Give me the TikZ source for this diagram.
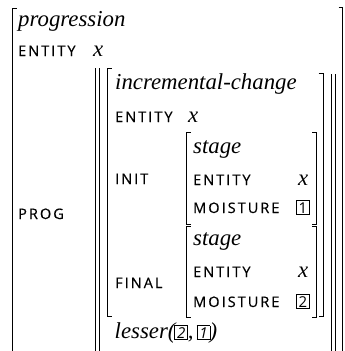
\documentclass[tikz,border=0pt]{standalone}
\usepackage{fontspec}
\setmainfont{Liberation Serif}
\newfontfamily\attrfont[LetterSpace=14, FakeBold=0.4]{Open Sans}
\newfontfamily\tagfont{Open Sans}
% boxed structure-sharing tag
\newcommand\avmtag[1]{{\setlength\fboxsep{1.4pt}\setlength\fboxrule{0.6pt}%
  \fbox{\tagfont\fontsize{15}{15}\selectfont\makebox[9.5pt]{#1}}}}
\begin{document}
\begin{tikzpicture}[x=1pt,y=-1pt,
  brk/.style={line width=0.8pt},
  attr/.style={anchor=base west, inner sep=0pt, font=\attrfont\fontsize{14.5}{14.5}\selectfont},
  typ/.style={anchor=base west, inner sep=0pt, font=\itshape\fontsize{22.8}{24}\selectfont},
  val/.style={anchor=base west, inner sep=0pt, font=\itshape\fontsize{22.8}{24}\selectfont}]
\useasboundingbox (0,0) rectangle (345,351);

% outer brackets (progression)
\draw[brk] (16.5,8) -- (12,8) -- (12,352);
\draw[brk] (338.5,7) -- (342.5,7) -- (342.5,352);

% double bars around the PROG value
\draw[brk] (95,68) -- (95,352);
\draw[brk] (99.5,68) -- (99.5,352);
\draw[brk] (331,74) -- (331,352);
\draw[brk] (335.5,74) -- (335.5,352);

% incremental-change brackets
\draw[brk] (111.5,68) -- (107,68) -- (107,316) -- (111.5,316);
\draw[brk] (318.5,73) -- (323,73) -- (323,316) -- (318.5,316);

% stage brackets (INIT)
\draw[brk] (190.5,132) -- (186,132) -- (186,224) -- (190.5,224);
\draw[brk] (312,132) -- (316.5,132) -- (316.5,224) -- (312,224);
% stage brackets (FINAL)
\draw[brk] (190.5,226) -- (186,226) -- (186,317) -- (190.5,317);
\draw[brk] (312,226) -- (316.5,226) -- (316.5,317) -- (312,317);

% outer structure
\node[typ]  (tprog) at (18,26)  {progression};
\node[attr] (aent)  at (18,56)  {ENTITY};
\node[val]  (vent)  at (93,56)  {x};
\node[attr] (aprog) at (18,219) {PROG};

% incremental-change
\node[typ]  (tinc)  at (115,89)  {incremental-change};
\node[attr] (aent2) at (115,122) {ENTITY};
\node[val]  (vent2) at (188,122) {x};
\node[attr] (ainit) at (115,184) {INIT};
\node[attr] (afin)  at (115,288) {FINAL};

% initial stage
\node[typ]  (ts1)   at (193,153) {stage};
\node[attr] (as1e)  at (193,185) {ENTITY};
\node[val]  (vs1e)  at (298,185) {x};
\node[attr] (as1m)  at (193,213) {MOISTURE};
\node[anchor=base west, inner sep=0pt] (vs1m) at (296,213) {\avmtag{1}};

% final stage
\node[typ]  (ts2)   at (193,245) {stage};
\node[attr] (as2e)  at (193,277) {ENTITY};
\node[val]  (vs2e)  at (298,277) {x};
\node[attr] (as2m)  at (193,307) {MOISTURE};
\node[anchor=base west, inner sep=0pt] (vs2m) at (296,307) {\avmtag{2}};

% relation
\node[typ]  (rel)   at (115,338) {\kern-0.5pt lesser(\kern-1pt\avmtag{2},\kern3pt\avmtag{1}\kern-0.5pt)};
\end{tikzpicture}
\end{document}
